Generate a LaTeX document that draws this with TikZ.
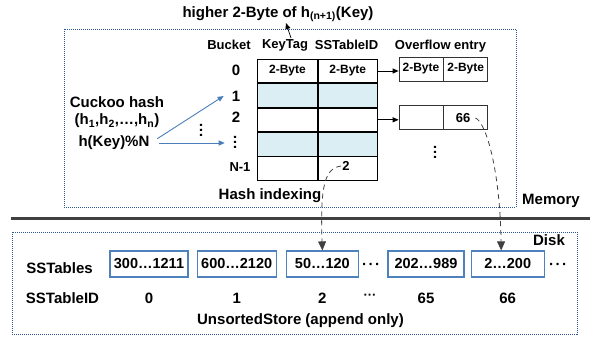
\documentclass[tikz,border=0pt]{standalone}
\usepackage{fontspec}
\setmainfont{Liberation Sans}
\usetikzlibrary{arrows.meta,positioning,calc}
\definecolor{dotblue}{HTML}{2F5597}
\definecolor{boxblue}{HTML}{4F81BD}
\definecolor{rowfill}{HTML}{DAEEF3}
\definecolor{hashblue}{HTML}{4A7EBB}
\definecolor{darkline}{HTML}{404040}
\newcommand{\hdotrow}{·\hspace{1.5pt}·\hspace{1.5pt}·}
\newcommand{\vdotcol}{\rotatebox{90}{·\hspace{0.5pt}·\hspace{0.5pt}·}}

\begin{document}
\begin{tikzpicture}[x=1pt, y=-1pt, font=\bfseries,
  big/.style={font=\fontsize{15}{17}\selectfont\bfseries, inner sep=1pt},
  head/.style={font=\fontsize{13}{15}\selectfont\bfseries, inner sep=1pt},
  cell/.style={draw=black, line width=0.8pt, minimum width=59.5pt, minimum height=23.6pt, inner sep=0pt, font=\fontsize{12}{14}\selectfont\bfseries},
  ovcell/.style={draw=black!80, line width=0.7pt, minimum width=44pt, minimum height=24pt, inner sep=0pt, font=\fontsize{12}{14}\selectfont\bfseries},
  sstab/.style={draw=boxblue, line width=1.2pt, minimum height=26pt, inner sep=0pt, font=\fontsize{14.5}{17}\selectfont\bfseries},
  region/.style={draw=dotblue, line width=0.9pt, dash pattern=on 1pt off 1pt},
  hasharrow/.style={-{Triangle[width=5pt,length=6pt]}, draw=hashblue, line width=0.9pt},
  ptrarrow/.style={-{Triangle[width=5pt,length=6pt]}, draw=black, line width=0.9pt},
  idarrow/.style={-{Triangle[width=8pt,length=9pt]}, draw=darkline, line width=0.8pt, dash pattern=on 5pt off 4pt}]
  \useasboundingbox (0,0) rectangle (592,337);
  % memory side
  \draw[region] (64,29) rectangle (516,207);
  \node[big] (title) at (278,14) {higher 2-Byte of h\textsubscript{(n+1)}(Key)};
  \node[big] (memlbl) at (551,201) {Memory};
  \node[big] (cuckoo) at (117,102) {Cuckoo hash};
  \node[big] (hfam) at (117,121) {(h\textsubscript{1},h\textsubscript{2},…,h\textsubscript{n})};
  \node[big] (hkey) at (114,143) {h(Key)\%N};
  \node[big, inner sep=0pt] (hdots) at (203,130) {\vdotcol};
  \node[head] (bucket) at (229,45) {Bucket};
  \node[head] (keytag) at (285,45) {KeyTag};
  \node[head] (tabid) at (346.5,45) {SSTableID};
  \node[head] (ovhead) at (440.5,46) {Overflow entry};
  \node[big] (b0) at (236,70) {0};
  \node[big] (b1) at (236,96) {1};
  \node[big] (b2) at (236,117) {2};
  \node[big, inner sep=0pt] (bdots) at (237,142) {\vdotcol};
  \node[head] (bn) at (240,167) {N-1};
  % bucket table
  \node[cell] (kt0) at (287.5,71) {2-Byte};
  \node[cell, right=0pt of kt0] (id0) {2-Byte};
  \node[cell, fill=rowfill, below=0pt of kt0] (kt1) {};
  \node[cell, fill=rowfill, right=0pt of kt1] (id1) {};
  \node[cell, below=0pt of kt1] (kt2) {};
  \node[cell, right=0pt of kt2] (id2) {};
  \node[cell, fill=rowfill, below=0pt of kt2] (kt3) {};
  \node[cell, fill=rowfill, right=0pt of kt3] (id3) {};
  \node[cell, below=0pt of kt3] (kt4) {};
  \node[cell, right=0pt of kt4] (id4) {};
  \node[head] (n2) at (346,166) {2};
  \node[big] (hashidx) at (270,196) {Hash indexing};
  % overflow entries
  \node[ovcell] (ov0a) at (421,69) {2-Byte};
  \node[ovcell, right=0pt of ov0a] (ov0b) {2-Byte};
  \node[ovcell] (ov1a) at (421,117.5) {};
  \node[ovcell, right=0pt of ov1a] (ov1b) {};
  \node[head] (n66) at (463,118) {66};
  \node[big, inner sep=0pt] (ovdots) at (437,152) {\vdotcol};
  \draw[hasharrow, shorten <=8pt] (hkey.east) -- ([xshift=-7pt]b1.west);
  \draw[hasharrow, shorten <=8pt] (hkey.east) -- ([xshift=-9pt]hkey.east -| bdots.west);
  \draw[ptrarrow] (id0.east) -- (id0.east -| ov0a.west);
  \draw[ptrarrow] (id2.east) -- (id2.east -| ov1a.west);
  \draw[ptrarrow, line width=0.7pt] ([xshift=6pt]keytag.north) -- ([xshift=8pt]title.south);
  % separator
  \draw[darkline, line width=3pt] (11,218) -- (590,218);
  % disk side
  \draw[region] (12,232) rectangle (577,334);
  \node[big] (disklbl) at (549,240) {Disk};
  \node[big] (sstlbl) at (59.5,268) {SSTables};
  \node[big] (idlbl) at (62.5,298) {SSTableID};
  \node[sstab, minimum width=78pt] (sst0) at (149,264) {300…1211};
  \node[sstab, minimum width=79pt, right=8pt of sst0] (sst1) {600…2120};
  \node[sstab, minimum width=72pt, right=9pt of sst1] (sst2) {50…120};
  \node[big] (sdots) at (371,266) {\hdotrow};
  \node[sstab, minimum width=76pt] (sst3) at (426,264) {202…989};
  \node[sstab, minimum width=73pt, right=6pt of sst3] (sst4) {2…200};
  \node[big] (edots) at (558,266) {\hdotrow};
  \node[big] (id0lbl) at ($(sst0)+(0,34)$) {0};
  \node[big] (id1lbl) at ($(sst1)+(0,34)$) {1};
  \node[big] (id2lbl) at ($(sst2)+(0,34)$) {2};
  \node[head] (iddots) at (370,297) {···};
  \node[big] (id3lbl) at ($(sst3)+(0,34)$) {65};
  \node[big] (id4lbl) at ($(sst4)+(0,34)$) {66};
  \node[big] (unsorted) at (300.5,321) {UnsortedStore (append only)};
  % SSTableID pointers into the disk
  \draw[idarrow] (n2.west) .. controls (325,168) and (320,185) .. (sst2.north);
  \draw[idarrow] ([xshift=4pt]n66.east) .. controls (486,122) and (500,170) .. ([xshift=-6.5pt]sst4.north);
\end{tikzpicture}
\end{document}
